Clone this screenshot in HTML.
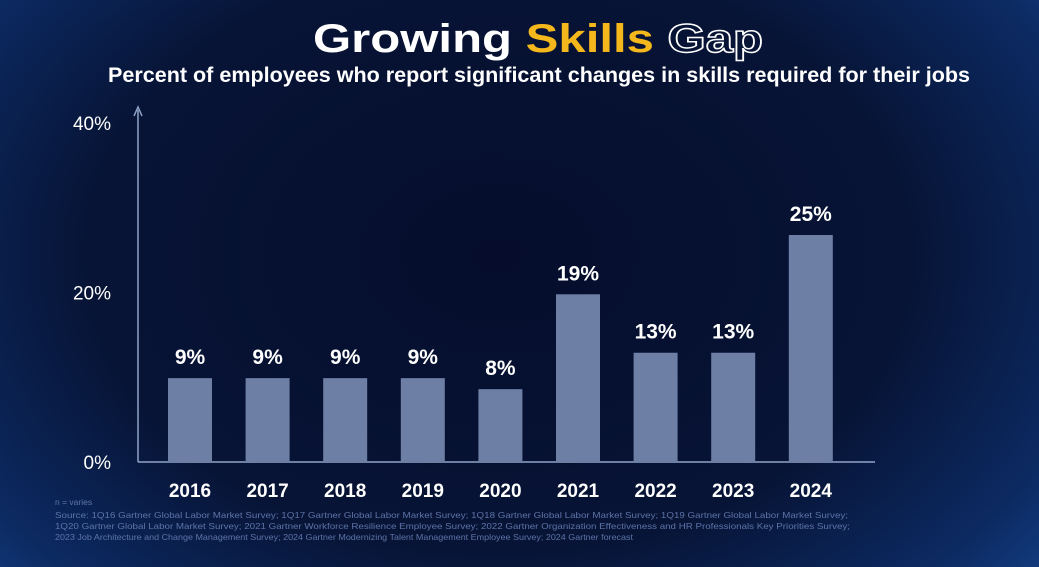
<!DOCTYPE html>
<html><head><meta charset="utf-8"><style>
html,body{margin:0;padding:0;}
body{width:1039px;height:567px;overflow:hidden;font-family:"Liberation Sans",sans-serif;
background:radial-gradient(ellipse 72% 95% at 48% 45%,#060d2c 0%,#071436 55%,#0c2a62 82%,#17458e 100%);}
svg{position:absolute;left:0;top:0;}
</style></head><body>
<svg width="1039" height="567">
<text x="313" y="52" textLength="450" lengthAdjust="spacingAndGlyphs" font-size="40" font-weight="bold"><tspan fill="#fff">Growing </tspan><tspan fill="#f5b81c">Skills </tspan><tspan fill="none" stroke="#fff" stroke-width="1.5">Gap</tspan></text>
<text x="108" y="82" textLength="862" lengthAdjust="spacingAndGlyphs" font-size="21" font-weight="bold" fill="#fff">Percent of employees who report significant changes in skills required for their jobs</text>
<g id="plot"></g>
<g fill="#5d74a8" font-size="8.5">
<text x="55" y="505">n = varies</text>
<text x="55" y="518" textLength="793" lengthAdjust="spacingAndGlyphs">Source: 1Q16 Gartner Global Labor Market Survey; 1Q17 Gartner Global Labor Market Survey; 1Q18 Gartner Global Labor Market Survey; 1Q19 Gartner Global Labor Market Survey;</text>
<text x="55" y="529" textLength="795" lengthAdjust="spacingAndGlyphs">1Q20 Gartner Global Labor Market Survey; 2021 Gartner Workforce Resilience Employee Survey; 2022 Gartner Organization Effectiveness and HR Professionals Key Priorities Survey;</text>
<text x="55" y="540" textLength="578" lengthAdjust="spacingAndGlyphs">2023 Job Architecture and Change Management Survey; 2024 Gartner Modernizing Talent Management Employee Survey; 2024 Gartner forecast</text>
</g>
</svg>
<script>
const categories=["2016","2017","2018","2019","2020","2021","2022","2023","2024"];
const values=[9.9,9.9,9.9,9.9,8.6,19.8,12.9,12.9,26.8];
const valueLabels=["9%","9%","9%","9%","8%","19%","13%","13%","25%"];
const yTicks=[0,20,40];
const yTickLabels=["0%","20%","40%"];
const NS="http://www.w3.org/2000/svg";
const g=document.getElementById("plot");
const y0=462,pxPer=8.47,xStart=190,step=77.6,bw=44;
const yScale=v=>y0-v*pxPer;
const xScale=i=>xStart+i*step;
function mk(t,a){const e=document.createElementNS(NS,t);for(const k in a)e.setAttribute(k,a[k]);g.appendChild(e);return e;}
let ax=mk("line",{x1:138,y1:y0,x2:138,y2:110,stroke:"#8fa3c8","stroke-width":1.5});


let ar=mk("path",{d:"M134,116 L138,107 L142,116",fill:"none",stroke:"#8fa3c8","stroke-width":1.5});


let xa=mk("line",{x1:138,y1:y0,x2:875,y2:y0,stroke:"#8fa3c8","stroke-width":1.5});


yTicks.forEach((t,i)=>{const e=mk("text",{x:111,y:yScale(t)+7,"text-anchor":"end","font-size":19,fill:"#fff"});e.textContent=yTickLabels[i];

});
categories.forEach((c,i)=>{
const cx=xScale(i),top=yScale(values[i]);
const r=mk("rect",{x:cx-bw/2,y:top,width:bw,height:y0-top,fill:"#6e7fa6"});


const v=mk("text",{x:cx,y:top-14,"text-anchor":"middle","font-size":21,"font-weight":"bold",fill:"#fff"});v.textContent=valueLabels[i];


const l=mk("text",{x:cx,y:497,"text-anchor":"middle","font-size":19,"font-weight":"bold",fill:"#fff"});l.textContent=c;


});
</script>
</body></html>
